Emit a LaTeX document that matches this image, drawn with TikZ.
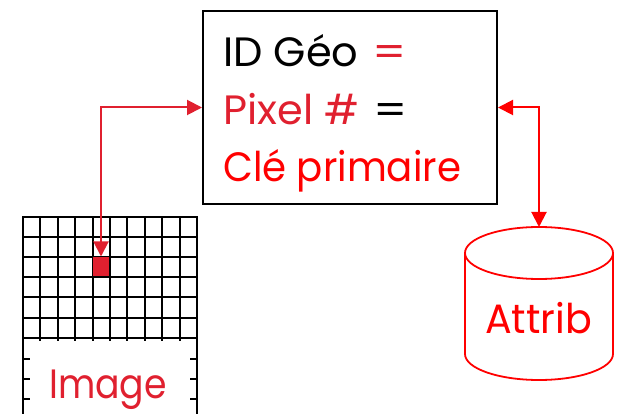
\documentclass[tikz,border=0pt]{standalone}
\usepackage{fontspec}
\setmainfont{Poppins}[FakeStretch=0.92]
\usetikzlibrary{arrows.meta}
\definecolor{dred}{HTML}{E0202F}
\definecolor{pred}{HTML}{FF0000}
\tikzset{
  bigtext/.style={inner sep=0pt,anchor=base west,font=\fontsize{41}{41}\selectfont},
  gridline/.style={black,line width=2pt},
  redlink/.style={line width=2pt,{Triangle[length=15pt,width=15pt]}-{Triangle[length=15pt,width=15pt]}}
}
\begin{document}
\begin{tikzpicture}[x=1pt,y=-1pt]
\useasboundingbox (0,0) rectangle (619,414);
% grid
\foreach \i in {0,...,10}{\draw[gridline] ({23+17.4*\i},217) -- ({23+17.4*\i},341);}
\foreach \y in {217,237,257,277,297,318,338}{\draw[gridline] (22,\y) -- (198,\y);}
\draw[gridline] (23,341) -- (23,414);
\draw[gridline] (197,341) -- (197,414);
\foreach \y in {359,379,399}{
  \draw[gridline] (23,\y) -- (30,\y);
  \draw[gridline] (190,\y) -- (197,\y);}
\node[fill=dred,draw=black,line width=1pt,minimum width=17pt,minimum height=20pt,inner sep=0pt] (cell) at (101,267) {};
\node[bigtext,text=dred] (image) at (49,398) {\scalebox{0.96}[1]{Image}};
% box
\node[draw=black,line width=2pt,minimum width=294pt,minimum height=193pt,inner sep=0pt] (box) at (350,107.5) {};
\node[bigtext] (l1) at (223,67) {\scalebox{1.1}[1]{ID Géo}\hspace{14.5pt}\scalebox{1.26}[1]{\textcolor{dred}{=}}};
\node[bigtext,text=dred] (l2) at (223,125) {\scalebox{1.1}[1]{Pixel \#}\hspace{14.5pt}\scalebox{1.26}[1]{\textcolor{black}{=}}};
\node[bigtext,text=pred] (l3) at (223,182) {\scalebox{1.026}[1]{Clé primaire}};
% cylinder
\coordinate (cyltop) at (539,227);
\draw[pred,line width=1.8pt] (465,354) -- (465,253) arc[start angle=180,end angle=360,x radius=74,y radius=26]
  -- (613,354) arc[start angle=0,end angle=180,x radius=74,y radius=26];
\draw[pred,line width=1.8pt] (465,253) arc[start angle=180,end angle=0,x radius=74,y radius=26];
\node[bigtext,text=pred] (attrib) at (485,334) {\scalebox{1.05}[1]{Attrib}};
% links
\draw[redlink,dred] (cell.north) |- (box.west);
\draw[redlink,pred] (box.east) -| (cyltop);
\end{tikzpicture}
\end{document}
